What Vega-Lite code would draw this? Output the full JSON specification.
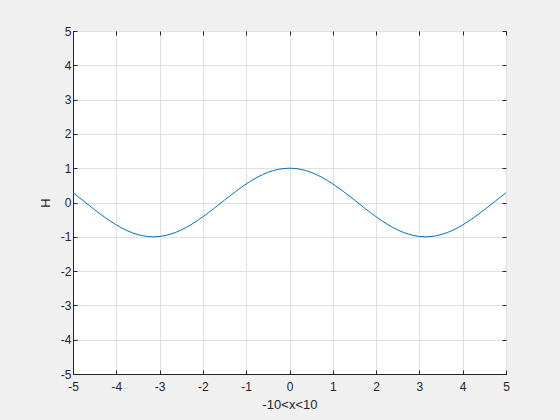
{
  "$schema": "https://vega.github.io/schema/vega-lite/v6.json",
  "autosize": "none",
  "width": 433,
  "height": 343,
  "padding": {"left": 73, "top": 31, "right": 54, "bottom": 46},
  "background": "#f0f0f0",
  "config": {
    "view": {"fill": "white", "stroke": "#262626", "strokeWidth": 1},
    "font": "Liberation Sans",
    "axis": {
      "labelFont": "Liberation Sans",
      "titleFont": "Liberation Sans",
      "labelFontSize": 12,
      "titleFontSize": 13,
      "labelColor": "#262626",
      "titleColor": "#262626",
      "titleFontWeight": "normal",
      "domainColor": "#262626",
      "tickColor": "#262626",
      "tickSize": -4,
      "gridColor": "#e0e0e0",
      "gridOpacity": 1
    }
  },
  "data": {"values": [
    {"x": -5, "y": 0.2837}, {"x": -4.75, "y": 0.0376}, {"x": -4.5, "y": -0.2108}, {"x": -4.25, "y": -0.4461},
    {"x": -4, "y": -0.6536}, {"x": -3.75, "y": -0.8206}, {"x": -3.5, "y": -0.9365}, {"x": -3.25, "y": -0.9941},
    {"x": -3.1416, "y": -1}, {"x": -3, "y": -0.99}, {"x": -2.75, "y": -0.9243}, {"x": -2.5, "y": -0.8011},
    {"x": -2.25, "y": -0.6282}, {"x": -2, "y": -0.4161}, {"x": -1.75, "y": -0.1782}, {"x": -1.5, "y": 0.0707},
    {"x": -1.25, "y": 0.3153}, {"x": -1, "y": 0.5403}, {"x": -0.75, "y": 0.7317}, {"x": -0.5, "y": 0.8776},
    {"x": -0.25, "y": 0.9689}, {"x": 0, "y": 1}, {"x": 0.25, "y": 0.9689}, {"x": 0.5, "y": 0.8776},
    {"x": 0.75, "y": 0.7317}, {"x": 1, "y": 0.5403}, {"x": 1.25, "y": 0.3153}, {"x": 1.5, "y": 0.0707},
    {"x": 1.75, "y": -0.1782}, {"x": 2, "y": -0.4161}, {"x": 2.25, "y": -0.6282}, {"x": 2.5, "y": -0.8011},
    {"x": 2.75, "y": -0.9243}, {"x": 3, "y": -0.99}, {"x": 3.1416, "y": -1}, {"x": 3.25, "y": -0.9941},
    {"x": 3.5, "y": -0.9365}, {"x": 3.75, "y": -0.8206}, {"x": 4, "y": -0.6536}, {"x": 4.25, "y": -0.4461},
    {"x": 4.5, "y": -0.2108}, {"x": 4.75, "y": 0.0376}, {"x": 5, "y": 0.2837}
  ]},
  "layer": [
    {
      "mark": {"type": "rule", "opacity": 0},
      "encoding": {
        "x": {"field": "x", "type": "quantitative", "scale": {"domain": [-5, 5], "nice": false},
          "axis": {"orient": "top", "labels": false, "grid": true, "title": null, "domain": false, "values": [-5,-4,-3,-2,-1,0,1,2,3,4,5]}},
        "y": {"field": "y", "type": "quantitative", "scale": {"domain": [-5, 5], "nice": false},
          "axis": {"orient": "right", "labels": false, "grid": true, "title": null, "domain": false, "values": [-5,-4,-3,-2,-1,0,1,2,3,4,5]}}
      }
    },
    {
      "mark": {"type": "line", "color": "#0072bd", "strokeWidth": 1, "interpolate": "monotone"},
      "encoding": {
        "x": {"field": "x", "type": "quantitative", "scale": {"domain": [-5, 5], "nice": false},
          "axis": {"orient": "bottom", "title": "-10<x<10", "titlePadding": 6, "labelPadding": 11, "grid": false, "values": [-5,-4,-3,-2,-1,0,1,2,3,4,5], "labelFlush": false, "labelExpr": "'' + datum.value"}},
        "y": {"field": "y", "type": "quantitative", "scale": {"domain": [-5, 5], "nice": false},
          "axis": {"orient": "left", "title": "H", "titlePadding": 8, "labelPadding": 6, "grid": false, "values": [-5,-4,-3,-2,-1,0,1,2,3,4,5], "labelExpr": "'' + datum.value"}}
      }
    }
  ],
  "resolve": {"axis": {"x": "independent", "y": "independent"}}
}
